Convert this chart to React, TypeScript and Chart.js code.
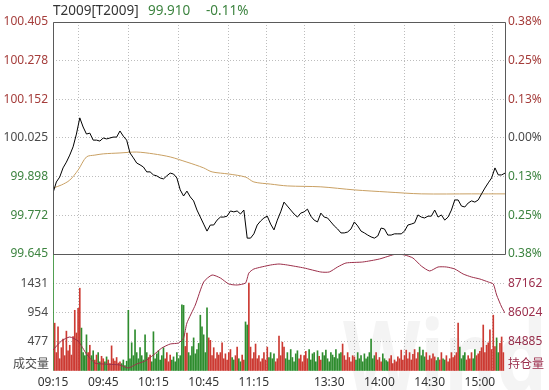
import React, { useEffect, useRef } from 'react';
import { Chart, registerables } from 'chart.js';

Chart.register(...registerables);

// ---------- data ----------
const symbolName = 'T2009[T2009]';
const lastPriceText = '99.910';
const lastChangeText = '-0.11%';
const prevClose = 100.025;

const sessionMinutes = 270;
const timeTickValues = [0, 30, 60, 90, 120, 135, 165, 195, 225, 255, 270];
const timeTickLabels = ['09:15', '09:45', '10:15', '10:45', '11:15', '', '13:30', '14:00', '14:30', '15:00', ''];

const priceTicks = [99.645, 99.772, 99.898, 100.025, 100.152, 100.278, 100.405];
const volumeTicks = [0, 477, 954, 1431];
const volumeMax = 1908;
const openInterestTicks = [84885, 86024, 87162];

// last price, one sample every 2 minutes
const priceStepMinutes = 2;
const prices = [
  99.845, 99.881, 99.897, 99.927, 99.946, 99.969, 99.996, 100.038, 100.091, 100.061,
  100.038, 100.041, 100.018, 100.018, 100.015, 100.025, 100.022, 100.025, 100.028, 100.028,
  100.048, 100.031, 100.018, 99.976, 99.960, 99.943, 99.937, 99.930, 99.914, 99.914,
  99.904, 99.901, 99.894, 99.891, 99.901, 99.910, 99.907, 99.894, 99.855, 99.835,
  99.851, 99.832, 99.819, 99.789, 99.766, 99.743, 99.720, 99.740, 99.740, 99.756,
  99.766, 99.766, 99.769, 99.786, 99.783, 99.786, 99.776, 99.789, 99.697, 99.697,
  99.711, 99.740, 99.753, 99.763, 99.769, 99.743, 99.724, 99.756, 99.783, 99.815,
  99.802, 99.789, 99.776, 99.766, 99.779, 99.783, 99.792, 99.769, 99.756, 99.750,
  99.779, 99.766, 99.763, 99.750, 99.737, 99.727, 99.714, 99.714, 99.717, 99.727,
  99.750, 99.737, 99.720, 99.714, 99.707, 99.701, 99.697, 99.704, 99.730, 99.727,
  99.707, 99.707, 99.711, 99.711, 99.711, 99.720, 99.740, 99.743, 99.747, 99.773,
  99.766, 99.763, 99.769, 99.769, 99.789, 99.766, 99.773, 99.756, 99.766, 99.789,
  99.822, 99.822, 99.802, 99.799, 99.812, 99.819, 99.815, 99.822, 99.842, 99.861,
  99.878, 99.894, 99.927, 99.904, 99.904, 99.910,
];

// average price line
const avgTimes = [0, 5, 10, 15, 20, 25, 30, 40, 50, 60, 70, 80, 85, 90, 95, 105, 115, 120, 130, 140, 160, 180, 200, 220, 250, 270];
const avgPrices = [
  99.861, 99.871, 99.887, 99.920, 99.963, 99.969, 99.973, 99.976, 99.979, 99.973,
  99.963, 99.946, 99.937, 99.927, 99.914, 99.907, 99.897, 99.881, 99.874, 99.868,
  99.865, 99.855, 99.848, 99.842, 99.842, 99.842,
];

// open interest (持仓量)
const oiTimes = [
  0, 5, 10, 15, 20, 25, 30, 40, 45, 50, 55, 60, 65, 70, 75, 78, 80, 85, 90, 95,
  100, 105, 110, 115, 117, 120, 130, 135, 140, 150, 160, 165, 170, 175, 185, 195, 205, 210, 215, 220,
  225, 230, 235, 240, 245, 250, 255, 260, 263, 265, 268, 270,
];
const oiValues = [
  84564, 84914, 85070, 84914, 84408, 84058, 84019, 83980, 83863, 84019, 84136, 84369, 84642, 84797, 84836, 85031, 85615, 86315, 87211, 87483,
  87366, 87133, 87094, 87172, 87561, 87717, 87872, 87911, 87872, 87756, 87600, 87600, 87795, 87950, 87989, 88106, 88300, 88262, 88145, 87833,
  87639, 87795, 87795, 87717, 87522, 87405, 87327, 87211, 87133, 86705, 86238, 86004,
];

// volume (成交量), one bar per minute
const volumes = [
  1908, 780, 300, 720, 200, 380, 520, 250, 650, 330,
  420, 260, 560, 990, 620, 1020, 1350, 700, 300, 250,
  590, 300, 420, 250, 330, 180, 260, 300, 150, 240,
  200, 150, 230, 180, 120, 410, 200, 160, 220, 130,
  150, 120, 180, 90, 160, 990, 200, 460, 250, 670,
  300, 200, 380, 250, 180, 590, 300, 220, 260, 150,
  640, 200, 280, 330, 180, 250, 380, 200, 300, 150,
  260, 180, 230, 150, 300, 200, 250, 1080, 1070, 400,
  620, 300, 250, 400, 540, 280, 350, 450, 910, 720,
  590, 300, 1030, 540, 500, 250, 380, 200, 300, 260,
  300, 460, 200, 280, 180, 300, 350, 220, 180, 250,
  390, 200, 150, 260, 180, 800, 750, 1435, 390, 200,
  300, 440, 200, 250, 150, 200, 300, 180, 390, 220,
  300, 200, 280, 150, 200, 570, 250, 470, 390, 200,
  300, 180, 350, 220, 150, 280, 330, 200, 260, 150,
  250, 320, 200, 350, 180, 280, 300, 150, 330, 240,
  180, 300, 250, 340, 200, 150, 300, 260, 220, 350,
  200, 280, 300, 440, 250, 180, 300, 220, 150, 250,
  230, 180, 300, 200, 250, 150, 280, 200, 230, 300,
  520, 200, 250, 300, 180, 220, 150, 280, 200, 170,
  150, 200, 250, 120, 180, 150, 230, 200, 340, 180,
  250, 340, 200, 300, 180, 270, 350, 200, 300, 390,
  250, 340, 230, 300, 180, 250, 200, 280, 230, 170,
  220, 180, 300, 200, 180, 250, 150, 200, 300, 220,
  250, 300, 780, 390, 200, 250, 300, 180, 250, 200,
  300, 200, 350, 250, 280, 320, 380, 750, 300, 420,
  460, 670, 350, 910, 400, 540, 300, 450, 555, 300,
];

// ---------- styles ----------
const FONT = "'Noto Sans', 'Noto Sans CJK SC', sans-serif";
const GRID = '#bdbdbd';
const FRAME = '#5a5a5a';
const TXT_RED = '#a53d3b';
const TXT_GREEN = '#3d8440';
const TXT_GRAY = '#4a4a4a';
const TXT_OI = '#9c2f4d';
const BAR_RED = '#cc3a32';
const BAR_GREEN = '#2e8c2e';
const PRICE_LINE = '#000000';
const AVG_LINE = '#c9a063';
const OI_LINE = '#9c2f4a';

function priceColor(v: number) {
  if (v > prevClose + 1e-6) return TXT_RED;
  if (v < prevClose - 1e-6) return TXT_GREEN;
  return TXT_GRAY;
}

function barColor(m: number) {
  if (m === 0) return prices[0] >= prevClose ? BAR_RED : BAR_GREEN;
  const k = Math.floor(m / 2);
  const a = m % 2 === 1 ? k : k - 1;
  const b = a + 1;
  if (b >= prices.length) return BAR_RED;
  return prices[b] >= prices[a] ? BAR_RED : BAR_GREEN;
}

const oiStep = (openInterestTicks[2] - openInterestTicks[0]) / 2;
const oiMin = openInterestTicks[0] - oiStep;
const oiMax = openInterestTicks[2] + oiStep;

const overlayPlugin = {
  id: 'overlay',
  beforeDatasetsDraw(chart: any) {
    const { ctx } = chart;
    ctx.save();
    ctx.fillStyle = 'rgba(0,0,0,0.045)';
    ctx.font = `bold 100px ${FONT}`;
    ctx.textBaseline = 'alphabetic';
    ctx.translate(343, 393);
    ctx.scale(0.8, 1);
    ctx.fillText('Wind', 0, 0);
    ctx.restore();
  },
  afterDraw(chart: any) {
    const { ctx, chartArea: a, scales } = chart;
    const yP = scales.yP;
    const yV = scales.yV;
    ctx.save();
    // frame of price panel
    ctx.strokeStyle = FRAME;
    ctx.lineWidth = 1;
    const l = Math.round(a.left) + 0.5;
    const r = Math.round(a.right) + 0.5;
    const t = Math.round(a.top) + 0.5;
    const sep = Math.round(yP.bottom) + 0.5;
    ctx.beginPath();
    ctx.moveTo(l, sep);
    ctx.lineTo(l, t);
    ctx.lineTo(r, t);
    ctx.lineTo(r, sep);
    ctx.moveTo(l, sep);
    ctx.lineTo(r, sep);
    ctx.stroke();

    // axis captions
    ctx.font = `12px ${FONT}`;
    ctx.textBaseline = 'middle';
    const capY = yV.getPixelForValue(0) - 6;
    ctx.fillStyle = TXT_GRAY;
    ctx.textAlign = 'right';
    ctx.fillText('成交量', a.left - 4, capY);
    ctx.fillStyle = TXT_OI;
    ctx.textAlign = 'left';
    ctx.fillText('持仓量', a.right + 3, capY);

    // header
    ctx.font = `13.5px ${FONT}`;
    ctx.textAlign = 'left';
    ctx.fillStyle = '#333333';
    ctx.fillText(symbolName, 53, 11);
    ctx.fillStyle = TXT_GREEN;
    ctx.fillText(lastPriceText, 148, 11);
    ctx.fillText(lastChangeText, 206, 11);
    ctx.restore();
  },
};

export default function App() {
  const ref = useRef<HTMLCanvasElement | null>(null);

  useEffect(() => {
    document.body.style.margin = '0';
    const canvas = ref.current;
    if (!canvas) return;
    Chart.defaults.font.family = FONT;

    const pricePoints = prices.map((p, i) => ({ x: i * priceStepMinutes, y: p }));
    const avgPoints = avgPrices.map((p, i) => ({ x: avgTimes[i], y: p }));
    const oiPoints = oiValues.map((v, i) => ({ x: oiTimes[i], y: v }));
    const volPoints = volumes.map((v, m) => ({ x: m, y: v }));
    const volColors = volumes.map((_, m) => barColor(m));

    const chart = new Chart(canvas, {
      type: 'line',
      data: {
        datasets: [
          {
            type: 'line',
            data: pricePoints,
            xAxisID: 'x',
            yAxisID: 'yP',
            borderColor: PRICE_LINE,
            borderWidth: 1,
            pointRadius: 0,
            tension: 0,
            order: 0,
          },
          {
            type: 'line',
            data: avgPoints,
            xAxisID: 'x',
            yAxisID: 'yP',
            borderColor: AVG_LINE,
            borderWidth: 1,
            pointRadius: 0,
            tension: 0.3,
            order: 1,
          },
          {
            type: 'line',
            data: oiPoints,
            xAxisID: 'x',
            yAxisID: 'yOI',
            borderColor: OI_LINE,
            borderWidth: 1,
            pointRadius: 0,
            tension: 0.2,
            order: 2,
          },
          {
            type: 'bar',
            data: volPoints,
            xAxisID: 'x',
            yAxisID: 'yV',
            backgroundColor: volColors,
            borderWidth: 0,
            barThickness: 1,
            grouped: false,
            order: 3,
          } as any,
        ],
      },
      options: {
        responsive: false,
        animation: false,
        devicePixelRatio: 1,
        events: [],
        layout: { padding: { top: 22, left: 0, right: 0, bottom: 0 } },
        plugins: {
          legend: { display: false },
          tooltip: { enabled: false },
          title: { display: false },
        },
        scales: {
          x: {
            type: 'linear',
            position: 'bottom',
            min: 0,
            max: sessionMinutes,
            offset: false,
            afterBuildTicks: (s: any) => {
              s.ticks = timeTickValues.map((v) => ({ value: v }));
            },
            afterFit: (s: any) => {
              s.height = 19;
            },
            ticks: {
              autoSkip: false,
              maxRotation: 0,
              minRotation: 0,
              padding: 4,
              color: '#333333',
              font: { size: 12, family: FONT },
              callback: (_v: any, i: number) => timeTickLabels[i] ?? '',
            },
            grid: { color: GRID, lineWidth: 1, drawTicks: false },
            border: { display: false, dash: [1, 2] },
          },
          yP: {
            type: 'linear',
            position: 'left',
            stack: 'main',
            stackWeight: 232,
            weight: 1,
            min: priceTicks[0],
            max: priceTicks[priceTicks.length - 1],
            afterBuildTicks: (s: any) => {
              s.ticks = priceTicks.map((v) => ({ value: v }));
            },
            afterFit: (s: any) => {
              s.width = 53;
            },
            ticks: {
              padding: 5,
              font: { size: 12, family: FONT },
              color: (c: any) => priceColor(c.tick ? c.tick.value : prevClose),
              callback: (v: any) => Number(v).toFixed(3),
            },
            grid: { color: GRID, lineWidth: 1, drawTicks: false },
            border: { display: false, dash: [1, 2] },
          },
          yV: {
            type: 'linear',
            position: 'left',
            stack: 'main',
            stackWeight: 117,
            weight: 0,
            min: 0,
            max: volumeMax,
            afterBuildTicks: (s: any) => {
              s.ticks = volumeTicks.map((v) => ({ value: v }));
            },
            afterFit: (s: any) => {
              s.width = 53;
            },
            ticks: {
              padding: 5,
              font: { size: 12, family: FONT },
              color: TXT_GRAY,
              callback: (v: any) => (Number(v) === 0 ? '' : String(v)),
            },
            grid: {
              color: (c: any) => (c.tick && c.tick.value === 0 ? 'rgba(0,0,0,0)' : GRID),
              lineWidth: 1,
              drawTicks: false,
            },
            border: { display: false, dash: [1, 2] },
          },
          yPct: {
            type: 'linear',
            position: 'right',
            stack: 'main',
            stackWeight: 232,
            weight: 0,
            min: priceTicks[0],
            max: priceTicks[priceTicks.length - 1],
            afterBuildTicks: (s: any) => {
              s.ticks = priceTicks.map((v) => ({ value: v }));
            },
            afterFit: (s: any) => {
              s.width = 44;
            },
            ticks: {
              padding: 3,
              font: { size: 12, family: FONT },
              color: (c: any) => priceColor(c.tick ? c.tick.value : prevClose),
              callback: (v: any) => Math.abs((Number(v) / prevClose - 1) * 100).toFixed(2) + '%',
            },
            grid: { display: false, drawTicks: false },
            border: { display: false },
          },
          yOI: {
            type: 'linear',
            position: 'right',
            stack: 'main',
            stackWeight: 117,
            weight: 1,
            min: oiMin,
            max: oiMax,
            afterBuildTicks: (s: any) => {
              s.ticks = openInterestTicks.map((v) => ({ value: v }));
            },
            afterFit: (s: any) => {
              s.width = 44;
            },
            ticks: {
              padding: 3,
              font: { size: 12, family: FONT },
              color: TXT_OI,
              callback: (v: any) => String(Math.round(Number(v))),
            },
            grid: { display: false, drawTicks: false },
            border: { display: false },
          },
        } as any,
      },
      plugins: [overlayPlugin],
    });

    return () => {
      chart.destroy();
    };
  }, []);

  return (
    <div style={{ position: 'absolute', left: 0, top: 0, width: 549, height: 390, background: '#ffffff' }}>
      <canvas ref={ref} width={549} height={390} style={{ width: 549, height: 390, display: 'block' }} />
    </div>
  );
}
